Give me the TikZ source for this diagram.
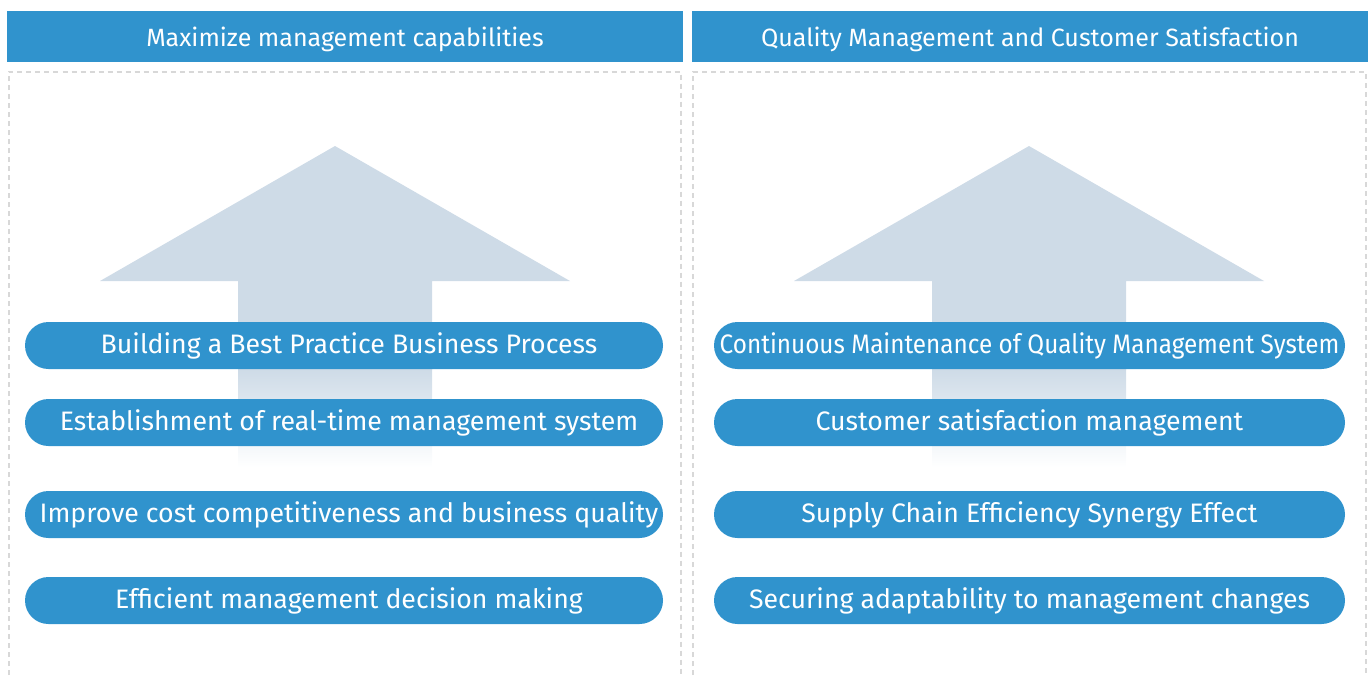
\documentclass[tikz,border=0pt]{standalone}
\usepackage{fontspec}
\setmainfont{Fira Sans}

\definecolor{barblue}{HTML}{3093CD}
\definecolor{arrowgray}{HTML}{CEDBE7}
\definecolor{dashgray}{HTML}{D8D8D8}

\begin{document}
\begin{tikzpicture}[x=1pt,
					y=-1pt,
					header/.style={fill=barblue,text=white,minimum width=676,minimum height=51,inner sep=0pt,text height=20,text depth=1,font=\fontsize{25}{30}\selectfont},
					pill/.style={fill=barblue,text=white,rounded corners=23.5,minimum width=638,minimum height=47,inner sep=0pt,text height=20,text depth=4,font=\fontsize{26.7}{30}\selectfont},
					left pill/.style={pill,execute at begin node={\hspace*{10pt}}},
					right pill/.style={pill,minimum width=631},
					frame/.style={draw=dashgray,line width=2,dash pattern=on 5 off 4}]

  \useasboundingbox (0,0) rectangle (1370,675);

  % titles
  \node[header] (HL) at (345,36.5) {Maximize management capabilities};
  \node[header] (HR) at (1030,36.5) {Quality Management and Customer Satisfaction};

  % dashed frames
  \draw[frame] (8.5,675) -- (8.5,72) -- (681,72) -- (681,675);
  \draw[frame] (693,675) -- (693,72) -- (1366,72) -- (1366,675);

  % arrows
  \foreach \c in {335,1029} {
    \fill[arrowgray] (\c,146) -- (\c+235,281) -- (\c+97,281) -- (\c+97,370)
      -- (\c-97,370) -- (\c-97,281) -- (\c-235,281) -- cycle;
    \shade[top color=arrowgray,bottom color=white] (\c-97,369.5) rectangle (\c+97,467);
  }

  % left column
  \node[left pill] (L1) at (344,345.5) {Building a Best Practice Business Process};
  \node[left pill] (L2) at (344,422.5) {Establishment of real-time management system};
  \node[left pill] (L3) at (344,514.5) {Improve cost competitiveness and business quality};
  \node[left pill] (L4) at (344,600.5) {Efficient management decision making};

  % right column
  \node[right pill] (R1) at (1029.5,345.5) {\scalebox{0.91}[1]{Continuous Maintenance of Quality Management System}};
  \node[right pill] (R2) at (1029.5,422.5) {Customer satisfaction management};
  \node[right pill] (R3) at (1029.5,514.5) {Supply Chain Efficiency Synergy Effect};
  \node[right pill] (R4) at (1029.5,600.5) {Securing adaptability to management changes};
\end{tikzpicture}
\end{document}
